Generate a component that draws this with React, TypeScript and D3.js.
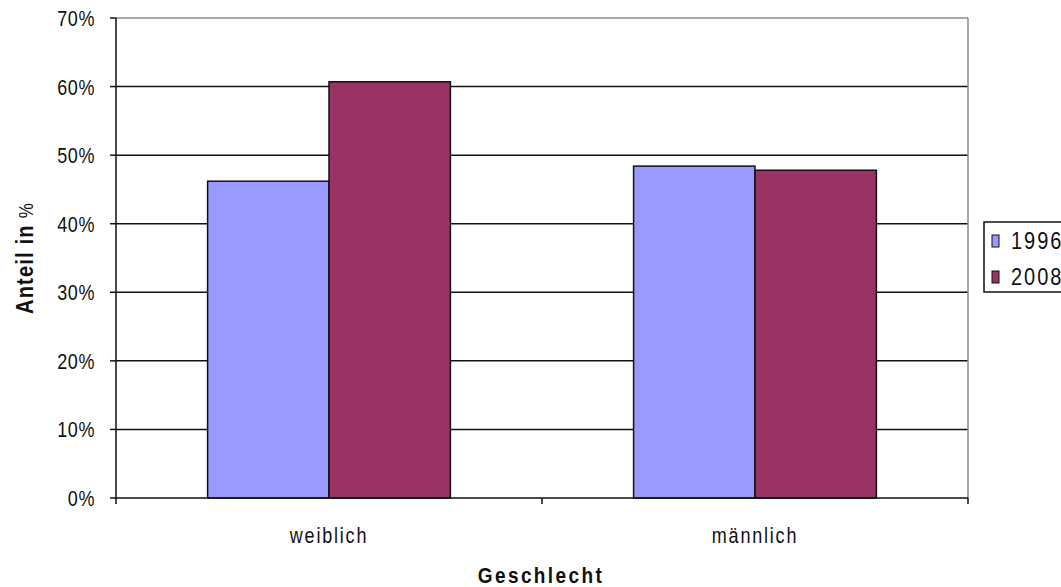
import React from "react";
import * as d3 from "d3";

const categories = ["weiblich", "männlich"];
const seriesNames = ["1996", "2008"];
const values1996 = [46.2, 48.4];
const values2008 = [60.7, 47.8];
const yTicks = [0, 10, 20, 30, 40, 50, 60, 70];
const seriesColors = ["#9999FF", "#993366"];

const W = 1061;
const H = 587;
const plot = { left: 116, right: 968, top: 18, bottom: 498 };
const FONT = "'Liberation Sans', Arial, sans-serif";
const SY = 1.2;

export default function App() {
  const x = d3
    .scaleBand<string>()
    .domain(categories)
    .range([plot.left, plot.right])
    .paddingInner(0)
    .paddingOuter(0);
  const y = d3.scaleLinear().domain([0, 70]).range([plot.bottom, plot.top]);
  const groupW = x.bandwidth() * 0.57;
  const inner = d3
    .scaleBand<string>()
    .domain(seriesNames)
    .range([0, groupW])
    .padding(0);
  const series = [values1996, values2008];

  return (
    <svg
      width={W}
      height={H}
      style={{ position: "absolute", left: 0, top: 0, background: "#fff" }}
    >
      {/* gridlines */}
      {yTicks.slice(1).map((t) => (
        <line
          key={"g" + t}
          x1={plot.left}
          x2={plot.right}
          y1={y(t)}
          y2={y(t)}
          stroke={t === 70 ? "#8a8a8a" : "#111"}
          strokeWidth={1.5}
        />
      ))}
      {/* plot-area right border */}
      <line
        x1={plot.right}
        x2={plot.right}
        y1={plot.top}
        y2={plot.bottom}
        stroke="#8a8a8a"
        strokeWidth={1.5}
      />

      {/* bars */}
      {categories.map((c, i) =>
        seriesNames.map((s, j) => {
          const x0 = (x(c) as number) + (x.bandwidth() - groupW) / 2 + (inner(s) as number);
          const v = series[j][i];
          return (
            <rect
              key={c + s}
              x={x0}
              y={y(v)}
              width={inner.bandwidth()}
              height={y(0) - y(v)}
              fill={seriesColors[j]}
              stroke="#111"
              strokeWidth={1.5}
            />
          );
        })
      )}

      {/* axes */}
      <line x1={plot.left} x2={plot.left} y1={plot.top} y2={plot.bottom} stroke="#111" strokeWidth={1.5} />
      <line x1={plot.left} x2={plot.right} y1={plot.bottom} y2={plot.bottom} stroke="#111" strokeWidth={1.5} />
      {yTicks.map((t) => (
        <g key={"t" + t}>
          <line x1={plot.left - 6} x2={plot.left} y1={y(t)} y2={y(t)} stroke="#111" strokeWidth={1.5} />
          <g transform={`translate(95,${y(t) + 8}) scale(1,${SY})`}>
            <text textAnchor="end" fontFamily={FONT} fontSize={18} fill="#111" letterSpacing={0.6}>
              {t + "%"}
            </text>
          </g>
        </g>
      ))}
      {[0, 1, 2].map((k) => {
        const xx = plot.left + k * x.step();
        return (
          <line key={"xt" + k} x1={xx} x2={xx} y1={plot.bottom} y2={plot.bottom + 6} stroke="#111" strokeWidth={1.5} />
        );
      })}
      {categories.map((c) => (
        <g key={"xl" + c} transform={`translate(${(x(c) as number) + x.bandwidth() / 2},543) scale(1,${SY})`}>
          <text textAnchor="middle" fontFamily={FONT} fontSize={18} fill="#111" letterSpacing={1.8}>
            {c}
          </text>
        </g>
      ))}

      {/* axis titles */}
      <g transform={`translate(541,583) scale(1,${SY})`}>
        <text textAnchor="middle" fontFamily={FONT} fontSize={19} fontWeight="bold" fill="#111" letterSpacing={2.4}>
          Geschlecht
        </text>
      </g>
      <g transform={`translate(33,258) rotate(-90) scale(1,1.15)`}>
        <text textAnchor="middle" fontFamily={FONT} fontSize={20} fill="#111" letterSpacing={1.2}>
          <tspan fontWeight="bold">Anteil in</tspan>
          <tspan fontSize={17}> %</tspan>
        </text>
      </g>

      {/* legend */}
      <rect x={984} y={222} width={100} height={70} fill="#fff" stroke="#111" strokeWidth={1.5} />
      {seriesNames.map((s, j) => {
        const cy = 241 + j * 36;
        return (
          <g key={"lg" + s}>
            <rect x={992} y={cy - 6} width={7} height={12} fill={seriesColors[j]} stroke="#111" strokeWidth={1} />
            <g transform={`translate(1011,${cy + 8}) scale(1,${SY})`}>
              <text fontFamily={FONT} fontSize={20} fill="#111" letterSpacing={2}>
                {s}
              </text>
            </g>
          </g>
        );
      })}
    </svg>
  );
}
